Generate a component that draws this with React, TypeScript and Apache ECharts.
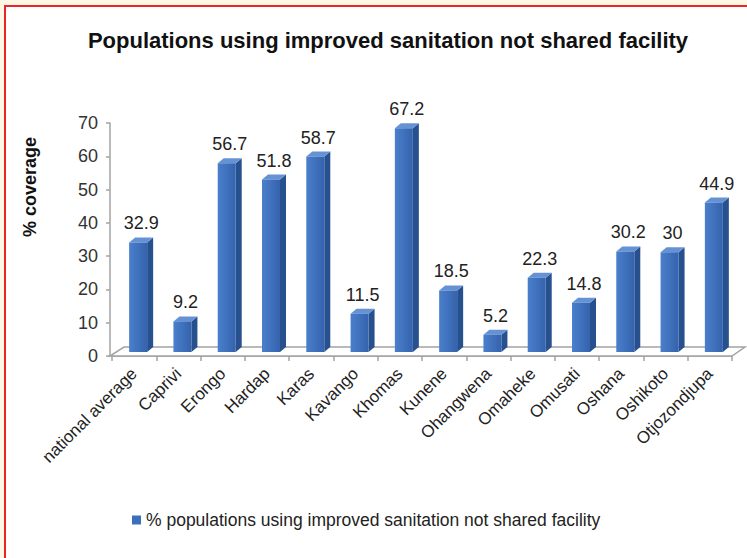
import React, { useEffect, useRef } from "react";
import * as echarts from "echarts";

const categories = [
  "national average", "Caprivi", "Erongo", "Hardap", "Karas", "Kavango", "Khomas",
  "Kunene", "Ohangwena", "Omaheke", "Omusati", "Oshana", "Oshikoto", "Otjozondjupa",
];
const coverage = [32.9, 9.2, 56.7, 51.8, 58.7, 11.5, 67.2, 18.5, 5.2, 22.3, 14.8, 30.2, 30, 44.9];
const yMin = 0;
const yMax = 70;
const yInterval = 10;
const seriesName = "% populations using improved sanitation not shared facility";
const chartTitle = "Populations using improved sanitation not shared facility";
const yAxisTitle = "% coverage";

const FONT = "Arial, 'Liberation Sans', sans-serif";
const FRONT = "#3b6fbd";
const SIDE = "#27508f";
const TOP = "#6592d4";
const GREY = "#a3a3a3";

export default function App() {
  const ref = useRef<HTMLDivElement>(null);
  useEffect(() => {
    if (!ref.current) return;
    const chart = echarts.init(ref.current, null, { renderer: "svg" });
    const n = categories.length;
    chart.setOption({
      animation: false,
      backgroundColor: "#fcf8e4",
      textStyle: { fontFamily: FONT },
      grid: { left: 112, right: 15, top: 123, bottom: 202, containLabel: false },
      graphic: [
        {
          type: "rect",
          z: -10,
          shape: { x: 5, y: 6, width: 760, height: 570 },
          style: { fill: "#ffffff", stroke: "#e8262c", lineWidth: 2 },
        },
        {
          type: "text",
          x: 388,
          y: 40,
          style: {
            text: chartTitle,
            fill: "#111111",
            font: `bold 22px ${FONT}`,
            textAlign: "center",
            textVerticalAlign: "middle",
          },
        },
        {
          type: "text",
          x: 30,
          y: 187,
          rotation: Math.PI / 2,
          style: {
            text: yAxisTitle,
            fill: "#111111",
            font: `bold 18px ${FONT}`,
            textAlign: "center",
            textVerticalAlign: "middle",
          },
        },
      ],
      legend: {
        left: 127,
        top: 506,
        icon: "rect",
        itemWidth: 9,
        itemHeight: 9,
        itemGap: 4,
        textStyle: { fontSize: 17.5, color: "#222222", fontFamily: FONT },
        data: [seriesName],
      },
      xAxis: {
        type: "category",
        data: categories,
        boundaryGap: true,
        axisLine: { show: true, lineStyle: { color: GREY, width: 1.5 } },
        axisTick: { show: true, length: 5, lineStyle: { color: GREY, width: 1.5 } },
        axisLabel: { rotate: 45, fontSize: 17, color: "#222222", margin: 15, fontFamily: FONT, interval: 0 },
        splitLine: { show: false },
      },
      yAxis: {
        type: "value",
        min: yMin,
        max: yMax,
        interval: yInterval,
        offset: 2,
        axisLine: { show: true, lineStyle: { color: GREY, width: 1.5 } },
        axisTick: { show: true, inside: false, length: 4, lineStyle: { color: GREY, width: 1.5 } },
        axisLabel: { fontSize: 18, color: "#333333", margin: 12, fontFamily: FONT },
        splitLine: { show: false },
      },
      series: [
        {
          type: "custom",
          name: "floor",
          z: 1,
          silent: true,
          data: [[0, 0]],
          renderItem: (params: any, api: any) => {
            const bw = api.size([1, 0])[0];
            const p0 = api.coord([0, 0]);
            const p1 = api.coord([n - 1, 0]);
            const xl = p0[0] - bw / 2 - 2;
            const xr = p1[0] + bw / 2;
            const y = p0[1];
            return {
              type: "polygon",
              shape: { points: [[xl, y], [xr, y], [xr + 13, y - 9], [xl + 14, y - 9]] },
              style: { fill: "#ffffff", stroke: GREY, lineWidth: 1.5 },
            };
          },
        },
        {
          type: "custom",
          name: seriesName,
          z: 3,
          itemStyle: { color: FRONT },
          data: coverage.map((v, i) => [i, v]),
          encode: { x: 0, y: 1 },
          renderItem: (params: any, api: any) => {
            const idx = api.value(0);
            const v = api.value(1);
            const top = api.coord([idx, v]);
            const base = api.coord([idx, 0]);
            const cx = top[0] + 4;
            const w = 18;
            const dx = 6;
            const dy = -5;
            const x0 = cx - w / 2;
            const x1 = cx + w / 2;
            const yt = top[1] - 4;
            const yb = base[1] - 4;
            return {
              type: "group",
              children: [
                {
                  type: "polygon",
                  shape: { points: [[x1, yt], [x1 + dx, yt + dy], [x1 + dx, yb + dy], [x1, yb]] },
                  style: { fill: SIDE },
                },
                {
                  type: "polygon",
                  shape: { points: [[x0, yt], [x0 + dx, yt + dy], [x1 + dx, yt + dy], [x1, yt]] },
                  style: { fill: TOP },
                },
                {
                  type: "rect",
                  shape: { x: x0, y: yt, width: w, height: yb - yt },
                  style: {
                    fill: new echarts.graphic.LinearGradient(0, 0, 1, 0, [
                      { offset: 0, color: "#4a7fcc" },
                      { offset: 1, color: "#3563ad" },
                    ]),
                  },
                },
                {
                  type: "text",
                  x: cx + dx / 2,
                  y: yt + dy - 5,
                  style: {
                    text: String(v),
                    fill: "#222222",
                    font: `18px ${FONT}`,
                    textAlign: "center",
                    textVerticalAlign: "bottom",
                  },
                },
              ],
            };
          },
        },
      ],
    });
    return () => chart.dispose();
  }, []);
  return (
    <div
      ref={ref}
      style={{ position: "fixed", left: 0, top: 0, width: 747, height: 558 }}
    />
  );
}
